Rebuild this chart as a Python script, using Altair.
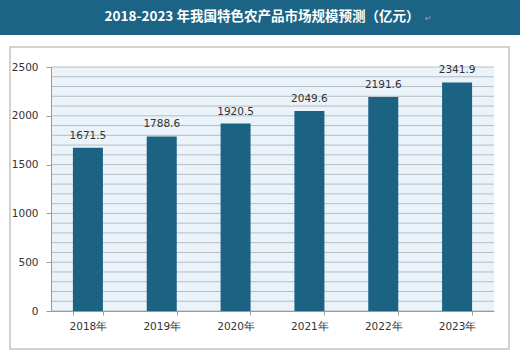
import altair as alt
import pandas as pd

years = ["2018年", "2019年", "2020年", "2021年", "2022年", "2023年"]
values = [1671.5, 1788.6, 1920.5, 2049.6, 2191.6, 2341.9]
grid_values = list(range(0, 2600, 100))
major_ticks = [0, 500, 1000, 1500, 2000, 2500]
title_text = "2018-2023 年我国特色农产品市场规模预测（亿元）"

W, H = 443, 244
PL, PT, PR, PB = 51, 67, 26, 45

df = pd.DataFrame({"year": years, "value": values})
one = pd.DataFrame({"k": [0]})
grid_df = pd.DataFrame({"g": grid_values})

BAR = "#1b6283"
yscale = alt.Scale(domain=[0, 2500], nice=False)

frame = alt.Chart(one).mark_rect(fill="white", stroke="#c4c4c4", strokeWidth=1.5).encode(
    x=alt.value(-41), x2=alt.value(458), y=alt.value(-20), y2=alt.value(282)
)
plotbg = alt.Chart(one).mark_rect(fill="#eaf3fa").encode(
    x=alt.value(0), x2=alt.value(W), y=alt.value(0), y2=alt.value(H)
)
grid = alt.Chart(grid_df).mark_rule(color="#b8bcc0", strokeWidth=1).encode(
    y=alt.Y("g:Q", scale=yscale),
    x=alt.value(0), x2=alt.value(W),
)
bars = alt.Chart(df).mark_bar(color=BAR, size=30).encode(
    x=alt.X("year:N", sort=years, scale=alt.Scale(domain=years),
            axis=alt.Axis(title=None, labelAngle=0, tickBand="extent", ticks=True,
                          tickSize=4, tickColor="#9a9a9a", domainColor="#9a9a9a",
                          labelFont="DejaVu Sans", labelFontSize=10.5, labelColor="#333333",
                          labelPadding=6, grid=False, zindex=1)),
    y=alt.Y("value:Q", scale=yscale,
            axis=alt.Axis(title=None, values=major_ticks, format="d", grid=False, tickSize=5,
                          tickColor="#9a9a9a", domainColor="#9a9a9a",
                          labelFont="DejaVu Sans", labelFontSize=10.5, labelColor="#333333",
                          labelPadding=8, zindex=1)),
)
labels = alt.Chart(df).mark_text(dy=-12, font="DejaVu Sans", fontSize=10.5, color="#333333").encode(
    x=alt.X("year:N", sort=years, scale=alt.Scale(domain=years)),
    y=alt.Y("value:Q", scale=yscale),
    text=alt.Text("value:Q", format=".1f"),
)
titlebar = alt.Chart(one).mark_rect(fill="#1c6486").encode(
    x=alt.value(-PL), x2=alt.value(W + PR), y=alt.value(-PT), y2=alt.value(-PT + 35)
)
title = alt.Chart(one).mark_text(
    text=title_text, font="Noto Sans CJK SC", fontSize=13.5, fontWeight="bold", color="white",
    align="center", baseline="middle"
).encode(x=alt.value(262 - PL), y=alt.value(17 - PT))
ret = alt.Chart(one).mark_text(
    text="↵", font="DejaVu Sans", fontSize=8, color="#9aa7b0", align="left", baseline="middle"
).encode(x=alt.value(425 - PL), y=alt.value(19 - PT))

chart = alt.layer(frame, plotbg, grid, bars, labels, titlebar, title, ret).properties(
    width=W, height=H,
    padding={"left": PL, "top": PT, "right": PR, "bottom": PB},
    autosize=alt.AutoSizeParams(type="none"),
    background="white",
).configure_view(stroke=None).configure_scale(bandPaddingInner=0.6, bandPaddingOuter=0.3)

chart.save("out.html", embed_options={"renderer": "svg", "actions": False})
